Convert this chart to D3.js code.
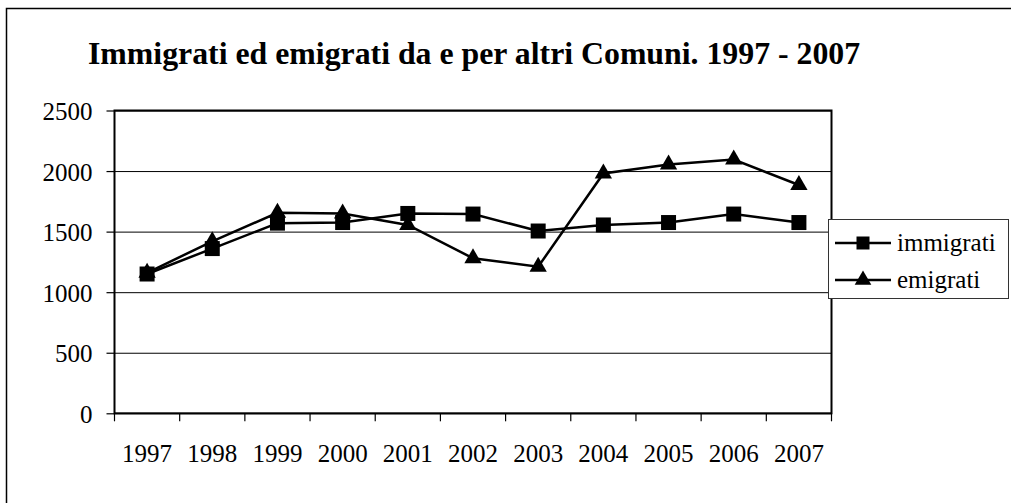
<!DOCTYPE html>
<html>
<head>
<meta charset="utf-8">
<script src="https://cdn.jsdelivr.net/npm/d3@7"></script>
<style>
  html, body { margin: 0; padding: 0; background: #fff; overflow: hidden; }
  svg { display: block; }
  text { font-family: "Liberation Serif", "Times New Roman", serif; fill: #000; }
</style>
</head>
<body>
<svg id="chart" width="1011" height="503"></svg>
<script>
const years = ["1997","1998","1999","2000","2001","2002","2003","2004","2005","2006","2007"];
const immigrati = [1150, 1360, 1570, 1575, 1650, 1645, 1505, 1555, 1575, 1645, 1575];
const emigrati  = [1160, 1420, 1655, 1650, 1555, 1280, 1210, 1980, 2055, 2095, 1885];
const yTicks = [0, 500, 1000, 1500, 2000, 2500];
const seriesNames = ["immigrati", "emigrati"];
const titleText = "Immigrati ed emigrati da e per altri Comuni. 1997 - 2007";

const svg = d3.select("#chart");
const W = 1011, H = 503;

// outer border: only top and left edges fall inside the frame
svg.append("path")
  .attr("d", `M6.5,${H}V8.5H${W}`)
  .attr("fill", "none").attr("stroke", "#000").attr("stroke-width", 1.5);

const plot = { left: 114.5, right: 831.5, top: 110.5, bottom: 413.3 };

const x = d3.scaleBand().domain(years).range([plot.left, plot.right]).padding(0);
const y = d3.scaleLinear().domain([0, 2500]).range([plot.bottom, plot.top]);

// title
svg.append("text")
  .attr("x", 88).attr("y", 64)
  .attr("font-size", 31.8).attr("font-weight", "bold")
  .text(titleText);

// gridlines
svg.append("g")
  .attr("transform", `translate(${plot.left},0)`)
  .call(d3.axisLeft(y).tickValues(yTicks).tickSize(-(plot.right - plot.left)).tickFormat(""))
  .call(g => g.select(".domain").remove())
  .call(g => g.selectAll("line").attr("stroke", "#000").attr("stroke-width", 1));

// y axis
svg.append("g")
  .attr("transform", `translate(${plot.left},0)`)
  .call(d3.axisLeft(y).tickValues(yTicks).tickSize(8).tickPadding(14).tickFormat(d3.format("d")))
  .call(g => g.select(".domain").remove())
  .call(g => g.selectAll("line").attr("stroke", "#000").attr("stroke-width", 1.2))
  .call(g => g.selectAll("text")
    .attr("font-family", "Liberation Serif, serif")
    .attr("font-size", 25).attr("dy", "0.36em").attr("fill", "#000"));

// x axis labels
svg.append("g")
  .attr("transform", `translate(0,${plot.bottom})`)
  .call(d3.axisBottom(x).tickSize(0).tickPadding(31))
  .call(g => g.select(".domain").remove())
  .call(g => g.selectAll("text")
    .attr("font-family", "Liberation Serif, serif")
    .attr("font-size", 25).attr("fill", "#000"));

// x boundary ticks
const bounds = years.map(d => x(d)).concat([x(years[years.length - 1]) + x.bandwidth()]);
svg.append("g").selectAll("line").data(bounds).join("line")
  .attr("x1", d => d).attr("x2", d => d)
  .attr("y1", plot.bottom).attr("y2", plot.bottom + 8)
  .attr("stroke", "#000").attr("stroke-width", 1.2);

// plot frame
svg.append("rect")
  .attr("x", plot.left).attr("y", plot.top)
  .attr("width", plot.right - plot.left).attr("height", plot.bottom - plot.top)
  .attr("fill", "none").attr("stroke", "#000").attr("stroke-width", 2);

const cx = d => x(d) + x.bandwidth() / 2;
const line = d3.line().x(d => cx(d.year)).y(d => y(d.value));

const sq = d3.symbol().type(d3.symbolSquare).size(225);
const tri = d3.symbol().type(d3.symbolTriangle).size(130);

function drawSeries(values, sym) {
  const data = years.map((yr, i) => ({ year: yr, value: values[i] }));
  svg.append("path").datum(data)
    .attr("d", line).attr("fill", "none")
    .attr("stroke", "#000").attr("stroke-width", 2.5);
  svg.append("g").selectAll("path").data(data).join("path")
    .attr("d", sym)
    .attr("transform", d => `translate(${cx(d.year)},${y(d.value)})`)
    .attr("fill", "#000");
}
drawSeries(emigrati, tri);
drawSeries(immigrati, sq);

// legend
const lg = svg.append("g");
lg.append("rect")
  .attr("x", 828.5).attr("y", 219.5).attr("width", 180).attr("height", 79)
  .attr("fill", "#fff").attr("stroke", "#333").attr("stroke-width", 1);
const legendSyms = [d3.symbol().type(d3.symbolSquare).size(169), d3.symbol().type(d3.symbolTriangle).size(120)];
seriesNames.forEach((name, i) => {
  const ry = 243 + i * 37;
  lg.append("line").attr("x1", 835).attr("x2", 891).attr("y1", ry).attr("y2", ry)
    .attr("stroke", "#000").attr("stroke-width", 2.5);
  lg.append("path").attr("d", legendSyms[i]()).attr("transform", `translate(863,${ry})`).attr("fill", "#000");
  lg.append("text").attr("x", 897).attr("y", ry + 8)
    .attr("font-size", 25).text(name);
});
</script>
</body>
</html>
